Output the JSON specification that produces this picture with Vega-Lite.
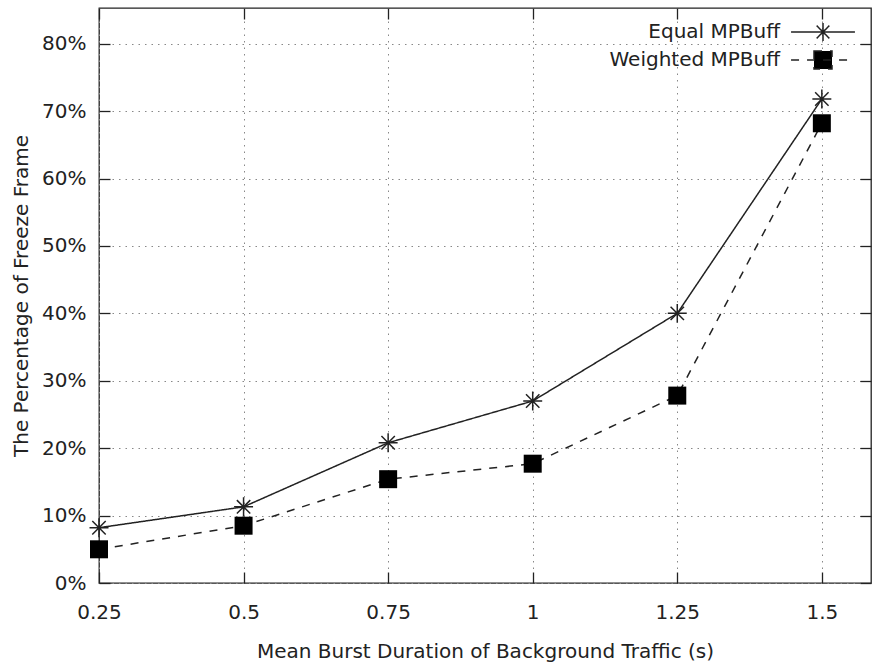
{
  "$schema": "https://vega.github.io/schema/vega-lite/v6.json",
  "width": 772,
  "height": 575,
  "autosize": {"type": "none"},
  "padding": {"left": 99, "top": 8, "right": 1, "bottom": 84},
  "background": "white",
  "config": {
    "font": "DejaVu Sans",
    "view": {"stroke": "#222", "strokeWidth": 1.3},
    "axis": {
      "domain": false,
      "tickColor": "#222",
      "tickWidth": 1.3,
      "tickSize": -11,
      "gridColor": "#888",
      "gridDash": [1.5, 5],
      "gridWidth": 1,
      "labelFont": "DejaVu Sans",
      "labelFontSize": 20,
      "labelColor": "#222",
      "labelFlush": false,
      "titleFont": "DejaVu Sans",
      "titleFontSize": 20,
      "titleFontWeight": "normal",
      "titleColor": "#222"
    }
  },
  "data": {
    "values": [
      {"x": 0.25, "y": 0.082, "series": "Equal MPBuff"},
      {"x": 0.5, "y": 0.113, "series": "Equal MPBuff"},
      {"x": 0.75, "y": 0.208, "series": "Equal MPBuff"},
      {"x": 1.0, "y": 0.270, "series": "Equal MPBuff"},
      {"x": 1.25, "y": 0.400, "series": "Equal MPBuff"},
      {"x": 1.5, "y": 0.718, "series": "Equal MPBuff"},
      {"x": 0.25, "y": 0.050, "series": "Weighted MPBuff"},
      {"x": 0.5, "y": 0.085, "series": "Weighted MPBuff"},
      {"x": 0.75, "y": 0.154, "series": "Weighted MPBuff"},
      {"x": 1.0, "y": 0.177, "series": "Weighted MPBuff"},
      {"x": 1.25, "y": 0.278, "series": "Weighted MPBuff"},
      {"x": 1.5, "y": 0.682, "series": "Weighted MPBuff"}
    ]
  },
  "layer": [
    {
      "mark": {"type": "line", "color": "#222", "strokeWidth": 1.5},
      "encoding": {
        "x": {
          "field": "x", "type": "quantitative",
          "scale": {"domain": [0.25, 1.585], "nice": false, "zero": false},
          "axis": {
            "orient": "bottom",
            "values": [0.25, 0.5, 0.75, 1, 1.25, 1.5],
            "labelExpr": "format(datum.value, '')",
            "labelPadding": 30,
            "title": "Mean Burst Duration of Background Traffic (s)",
            "titlePadding": 19,
            "grid": true
          }
        },
        "y": {
          "field": "y", "type": "quantitative",
          "scale": {"domain": [0, 0.853], "nice": false},
          "axis": {
            "orient": "left",
            "values": [0, 0.1, 0.2, 0.3, 0.4, 0.5, 0.6, 0.7, 0.8],
            "format": ".0%",
            "labelPadding": 24,
            "title": "The Percentage of Freeze Frame",
            "titlePadding": 10,
            "grid": true
          }
        },
        "strokeDash": {
          "field": "series", "type": "nominal",
          "scale": {"domain": ["Equal MPBuff", "Weighted MPBuff"], "range": [[1, 0], [8, 8]]},
          "legend": {
            "orient": "none",
            "legendX": 714,
            "legendY": 14,
            "title": null,
            "padding": 0,
            "symbolSize": 324,
            "symbolStrokeWidth": 1.5,
            "symbolStrokeColor": "#222",
            "symbolFillColor": "#000",
            "labelAlign": "right",
            "labelOffset": -53,
            "labelLimit": 400,
            "labelFontSize": 20,
            "labelFont": "DejaVu Sans",
            "labelColor": "#222",
            "rowPadding": 4,
            "encode": {
              "symbols": {
                "update": {
                  "shape": {"signal": "datum.value == 'Equal MPBuff' ? 'M-3.55,0L3.55,0M0,-1L0,1M-0.707,-0.707L0.707,0.707M-0.707,0.707L0.707,-0.707' : 'M-3.55,0L3.55,0M-1,-1L1,-1L1,1L-1,1Z'"},
                  "fill": {"value": "#000"},
                  "stroke": {"value": "#222"}
                }
              }
            }
          }
        }
      }
    },
    {
      "transform": [{"filter": "datum.series == 'Equal MPBuff'"}],
      "mark": {
        "type": "point",
        "shape": "M-1,0L1,0M0,-1L0,1M-0.707,-0.707L0.707,0.707M-0.707,0.707L0.707,-0.707",
        "size": 360,
        "filled": false,
        "stroke": "#222",
        "strokeWidth": 1.5,
        "opacity": 1
      },
      "encoding": {
        "x": {
          "field": "x", "type": "quantitative",
          "axis": {"orient": "top", "values": [0.25, 0.5, 0.75, 1, 1.25, 1.5], "labels": false, "grid": false, "title": null}
        },
        "y": {
          "field": "y", "type": "quantitative",
          "axis": {"orient": "right", "values": [0, 0.1, 0.2, 0.3, 0.4, 0.5, 0.6, 0.7, 0.8], "labels": false, "grid": false, "title": null}
        }
      }
    },
    {
      "transform": [{"filter": "datum.series == 'Weighted MPBuff'"}],
      "mark": {"type": "square", "size": 324, "color": "#000", "filled": true, "opacity": 1},
      "encoding": {
        "x": {"field": "x", "type": "quantitative", "axis": null},
        "y": {"field": "y", "type": "quantitative", "axis": null}
      }
    }
  ],
  "resolve": {"axis": {"x": "independent", "y": "independent"}}
}
